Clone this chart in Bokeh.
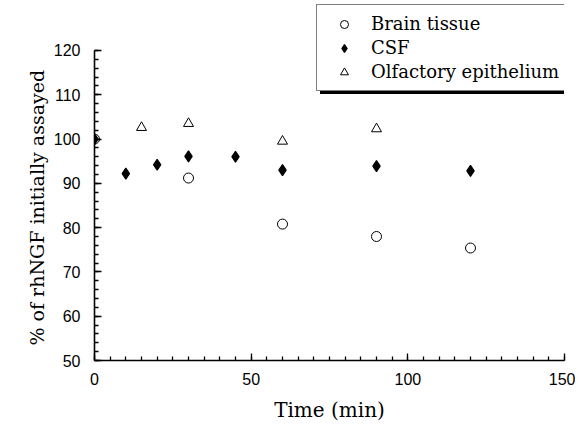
from bokeh.plotting import figure
from bokeh.models import Legend, LegendItem, Range1d, FixedTicker, Title
from bokeh.embed import file_html
from bokeh.resources import INLINE

# Data
brain_t = [0, 30, 60, 90, 120]
brain_v = [100, 91.2, 80.8, 78.0, 75.4]
csf_t = [0, 10, 20, 30, 45, 60, 90, 120]
csf_v = [100, 92.2, 94.2, 96.1, 96.0, 93.0, 93.9, 92.8]
olf_t = [15, 30, 60, 90]
olf_v = [102.6, 103.5, 99.5, 102.3]

x_ticks = [0, 50, 100, 150]
y_ticks = [50, 60, 70, 80, 90, 100, 110, 120]

SERIF = "DejaVu Serif"
SANS = "Liberation Sans"

# frame spans the full height so the legend (above the y axis top) is not clipped
p = figure(width=575, height=425, output_backend="svg", toolbar_location=None,
           x_range=Range1d(0, 150), y_range=Range1d(50, 131.29),
           min_border_left=94, min_border_right=11, min_border_top=0, min_border_bottom=65)
p.outline_line_color = None
p.grid.visible = False
p.background_fill_color = "white"
p.border_fill_color = "white"

for ax in (p.xaxis[0], p.yaxis[0]):
    ax.axis_line_width = 1.6
    ax.axis_line_color = "black"
    ax.major_tick_in = 7
    ax.major_tick_out = 0
    ax.minor_tick_in = 4
    ax.minor_tick_out = 0
    ax.major_tick_line_width = 1.3
    ax.minor_tick_line_width = 1.3
    ax.major_label_text_font = SANS
    ax.major_label_text_font_size = "16px"
    ax.major_label_text_color = "black"
    ax.axis_label_text_font = SERIF
    ax.axis_label_text_font_size = "20px"
    ax.axis_label_text_font_style = "normal"
    ax.axis_label_text_color = "black"

p.yaxis[0].bounds = (50, 120)
p.xaxis[0].ticker = FixedTicker(ticks=x_ticks, minor_ticks=list(range(0, 151, 5)))
p.yaxis[0].ticker = FixedTicker(ticks=y_ticks, minor_ticks=list(range(50, 121, 2)))
p.xaxis[0].major_label_standoff = 12
p.yaxis[0].major_label_standoff = 14
p.xaxis[0].axis_label = "Time (min)"
p.xaxis[0].axis_label_standoff = 10

# y axis title placed as a side title so it can be centred on the 50-120 span
ytitle = Title(text="% of rhNGF initially assayed", align="left", offset=15,
               text_font=SERIF, text_font_size="19px", text_font_style="normal",
               text_color="black", standoff=5)
p.add_layout(ytitle, "left")

r_brain = p.scatter(brain_t, brain_v, marker="circle", size=10, fill_color="white",
                    line_color="black", line_width=1)
r_csf = p.scatter(csf_t, csf_v, marker="diamond", size=11,
                  fill_color="black", line_color="black", line_width=1.2)
r_olf = p.scatter(olf_t, olf_v, marker="triangle", size=10, fill_color="white",
                  line_color="black", line_width=1)

def make_legend(loc, bg, labels):
    items = [LegendItem(label=labels[0], renderers=[r_brain]),
             LegendItem(label=labels[1], renderers=[r_csf]),
             LegendItem(label=labels[2], renderers=[r_olf])]
    lg = Legend(items=items, location=loc, orientation="vertical")
    lg.label_text_font = SERIF
    lg.label_text_font_size = "18px"
    lg.label_text_color = "black"
    lg.glyph_width = 38
    lg.glyph_height = 20
    lg.label_height = 20
    lg.label_width = 194
    lg.spacing = 3
    lg.label_standoff = 8
    lg.padding = 8
    lg.margin = 0
    lg.background_fill_color = bg
    lg.background_fill_alpha = 1.0
    lg.border_line_color = "black"
    lg.border_line_width = 1.5
    return lg

shadow = make_legend((226, 266), "black", [" ", " ", " "])
front = make_legend((222, 269), "white", ["Brain tissue", "CSF", "Olfactory epithelium"])
p.add_layout(shadow, "center")
p.add_layout(front, "center")

open("out.html", "w").write(file_html(p, INLINE))
